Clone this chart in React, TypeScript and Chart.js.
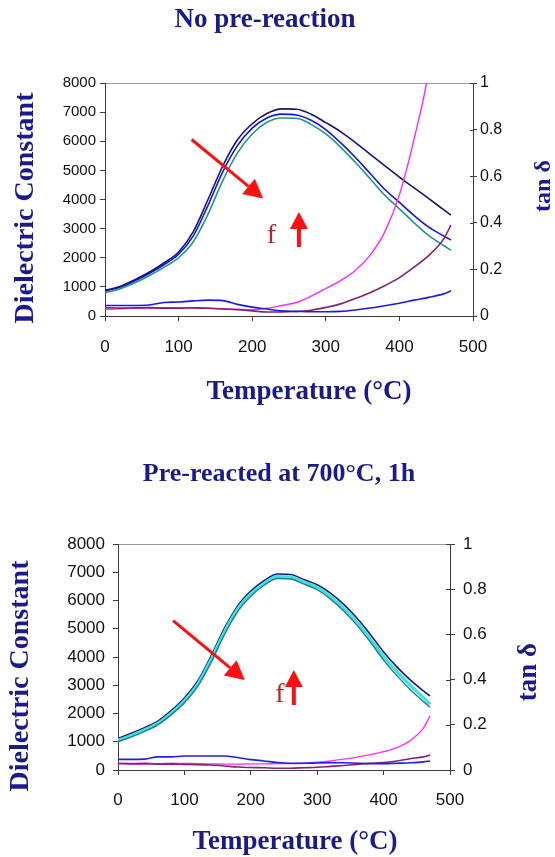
import React, { useEffect, useRef } from "react";
import { Chart, registerables } from "chart.js";

Chart.register(...registerables);

// Measurement temperatures (°C)
const TEMPERATURE = [0, 20, 40, 60, 80, 100, 120, 140, 160, 180, 200, 220, 240, 260, 280, 300, 320, 340, 360, 380, 400, 420, 440, 460, 470];

// No pre-reaction: dielectric constant, three frequencies (lowest first)
const EPS_RAW_F1 = [880, 1010, 1240, 1500, 1820, 2200, 2900, 4000, 5150, 6050, 6600, 6950, 7110, 7100, 6930, 6640, 6330, 5960, 5560, 5160, 4770, 4400, 4030, 3650, 3460];
const EPS_RAW_F2 = [860, 990, 1200, 1460, 1760, 2120, 2750, 3800, 4950, 5850, 6450, 6800, 6930, 6900, 6720, 6400, 5950, 5450, 4900, 4350, 3900, 3450, 3050, 2750, 2610];
const EPS_RAW_F3 = [800, 930, 1130, 1380, 1670, 2000, 2550, 3500, 4650, 5600, 6250, 6650, 6800, 6790, 6580, 6250, 5800, 5280, 4720, 4150, 3680, 3200, 2760, 2420, 2260];

// No pre-reaction: loss tangent
const TAN_RAW_F1 = [0.028, 0.031, 0.033, 0.034, 0.036, 0.034, 0.036, 0.034, 0.031, 0.029, 0.027, 0.033, 0.045, 0.058, 0.085, 0.118, 0.152, 0.195, 0.26, 0.36, 0.52, 0.76, 1.06, 1.6, 2.0];
const TAN_RAW_F2 = [0.036, 0.034, 0.035, 0.036, 0.034, 0.034, 0.035, 0.033, 0.03, 0.027, 0.022, 0.017, 0.017, 0.019, 0.025, 0.037, 0.052, 0.075, 0.1, 0.13, 0.165, 0.21, 0.26, 0.33, 0.39];
const TAN_RAW_F3 = [0.045, 0.045, 0.045, 0.047, 0.058, 0.06, 0.065, 0.068, 0.066, 0.05, 0.038, 0.03, 0.022, 0.02, 0.018, 0.018, 0.02, 0.026, 0.034, 0.044, 0.055, 0.068, 0.08, 0.095, 0.108];

// Pre-reacted at 700 °C for 1 h: dielectric constant
const EPS_PRE_F1 = [1120, 1300, 1500, 1730, 2100, 2550, 3150, 4030, 5000, 5800, 6330, 6700, 6940, 6920, 6740, 6560, 6260, 5860, 5370, 4800, 4180, 3650, 3190, 2800, 2620];
const EPS_PRE_F2 = [1050, 1220, 1420, 1650, 2010, 2450, 3040, 3900, 4880, 5690, 6230, 6610, 6850, 6830, 6650, 6460, 6140, 5730, 5230, 4650, 4020, 3480, 3000, 2560, 2330];
const EPS_PRE_F3 = [1000, 1170, 1370, 1600, 1950, 2380, 2960, 3800, 4780, 5600, 6150, 6540, 6780, 6760, 6580, 6380, 6050, 5630, 5120, 4530, 3890, 3340, 2850, 2420, 2220];

// Pre-reacted at 700 °C for 1 h: loss tangent
const TAN_PRE_F1 = [0.03, 0.029, 0.031, 0.028, 0.03, 0.029, 0.028, 0.027, 0.026, 0.026, 0.027, 0.027, 0.028, 0.028, 0.03, 0.034, 0.04, 0.048, 0.057, 0.068, 0.081, 0.099, 0.13, 0.185, 0.24];
const TAN_PRE_F2 = [0.028, 0.027, 0.027, 0.026, 0.026, 0.025, 0.024, 0.022, 0.018, 0.013, 0.011, 0.01, 0.008, 0.008, 0.01, 0.012, 0.016, 0.02, 0.025, 0.03, 0.033, 0.04, 0.05, 0.058, 0.066];
const TAN_PRE_F3 = [0.047, 0.047, 0.048, 0.058, 0.058, 0.062, 0.062, 0.062, 0.062, 0.055, 0.046, 0.04, 0.033, 0.03, 0.03, 0.031, 0.032, 0.032, 0.03, 0.028, 0.028, 0.03, 0.032, 0.036, 0.04];

// Axis ranges and tick steps
const TEMP_RANGE = [0, 500];
const TEMP_STEP = 100;
const EPS_RANGE = [0, 8000];
const EPS_STEP = 1000;
const TAN_RANGE = [0, 1];
const TAN_STEP = 0.2;

type Pt = [number, number];

// "Increasing frequency" arrows, in (°C, dielectric constant) coordinates
const RAW_DIAG_ARROW: Pt[] = [[117.7, 6060], [214.9, 4036]];
const RAW_UP_ARROW: Pt[] = [[263.5, 2369], [263.5, 3571]];
const RAW_F_LABEL: Pt = [226, 2750];
const PRE_DIAG_ARROW: Pt[] = [[83, 5286], [191, 3186]];
const PRE_UP_ARROW: Pt[] = [[264.8, 2301], [264.8, 3540]];
const PRE_F_LABEL: Pt = [243.7, 2655];

const INK = "#1a1a8c";
const AXIS = "#3c3c3c";
const FRAME = "#9a9a9a";
const ARROW_RED = "#ff1010";
const F_RED = "#b52a2a";

const pts = (values: number[]) => TEMPERATURE.map((t, i) => ({ x: t, y: values[i] }));

type PanelSpec = {
  eps: { data: number[]; color: string; width: number }[];
  tan: { data: number[]; color: string; width: number }[];
  box: { left: number; right: number; top: number; bottom: number; w: number; h: number };
  tickFont: { family: string; yLeft: number; yRight: number; x: number };
  leftTick: { len: number; pad: number };
  rightTick: { out: number; inner: number; pad: number };
  xTick: { len: number; pad: number };
  arrows: { line: Pt[]; head: number; half: number; shaft: number }[];
  fLabel: Pt;
  fSize: number;
};

function buildChart(canvas: HTMLCanvasElement, spec: PanelSpec) {
  const { box } = spec;
  const overlay = {
    id: "panelOverlay",
    afterDatasetsDraw(chart: any) {
      const { ctx, scales, chartArea } = chart;
      const toPx = (p: Pt) => [scales.x.getPixelForValue(p[0]), scales.y.getPixelForValue(p[1])];
      ctx.save();
      for (const a of spec.arrows) {
        const [x0, y0] = toPx(a.line[0]);
        const [x1, y1] = toPx(a.line[1]);
        const ang = Math.atan2(y1 - y0, x1 - x0);
        const bx = x1 - Math.cos(ang) * a.head;
        const by = y1 - Math.sin(ang) * a.head;
        ctx.strokeStyle = ARROW_RED;
        ctx.lineWidth = a.shaft;
        ctx.lineCap = "butt";
        ctx.beginPath();
        ctx.moveTo(x0, y0);
        ctx.lineTo(bx, by);
        ctx.stroke();
        ctx.fillStyle = ARROW_RED;
        ctx.beginPath();
        ctx.moveTo(x1, y1);
        ctx.lineTo(bx + Math.sin(ang) * a.half, by - Math.cos(ang) * a.half);
        ctx.lineTo(bx - Math.sin(ang) * a.half, by + Math.cos(ang) * a.half);
        ctx.closePath();
        ctx.fill();
      }
      const [fx, fy] = toPx(spec.fLabel);
      ctx.fillStyle = F_RED;
      ctx.font = `${spec.fSize}px 'Liberation Serif', 'Times New Roman', serif`;
      ctx.textAlign = "center";
      ctx.textBaseline = "middle";
      ctx.fillText("f", fx, fy);
      // inner half of the right-axis tick marks
      const y1s = scales.y1;
      ctx.strokeStyle = AXIS;
      ctx.lineWidth = 1;
      for (const t of y1s.ticks) {
        const y = Math.round(y1s.getPixelForValue(t.value)) + 0.5;
        ctx.beginPath();
        ctx.moveTo(chartArea.right - spec.rightTick.inner, y);
        ctx.lineTo(chartArea.right, y);
        ctx.stroke();
      }
      ctx.restore();
    },
  };

  const datasets: any[] = [];
  spec.tan.forEach((s) =>
    datasets.push({
      data: pts(s.data),
      yAxisID: "y1",
      borderColor: s.color,
      borderWidth: s.width,
      pointRadius: 0,
      cubicInterpolationMode: "monotone",
      fill: false,
    })
  );
  spec.eps.forEach((s) =>
    datasets.push({
      data: pts(s.data),
      yAxisID: "y",
      borderColor: s.color,
      borderWidth: s.width,
      pointRadius: 0,
      cubicInterpolationMode: "monotone",
      fill: false,
    })
  );

  return new Chart(canvas, {
    type: "line",
    data: { datasets },
    plugins: [overlay],
    options: {
      responsive: false,
      animation: false,
      events: [],
      layout: { padding: { top: box.top, left: 0, right: 0, bottom: 0 } },
      plugins: { legend: { display: false }, tooltip: { enabled: false }, title: { display: false } },
      scales: {
        x: {
          type: "linear",
          position: "bottom",
          min: TEMP_RANGE[0],
          max: TEMP_RANGE[1],
          ticks: {
            stepSize: TEMP_STEP,
            color: "#111",
            padding: spec.xTick.pad,
            maxRotation: 0,
            font: { family: spec.tickFont.family, size: spec.tickFont.x },
            callback: (v: any) => String(v),
          },
          grid: { display: true, drawOnChartArea: false, drawTicks: true, tickLength: spec.xTick.len, color: AXIS },
          border: { display: true, color: AXIS, width: 1 },
          afterFit: (s: any) => {
            s.height = box.h - box.bottom;
          },
        },
        xTop: {
          type: "linear",
          position: "top",
          min: TEMP_RANGE[0],
          max: TEMP_RANGE[1],
          ticks: { display: false },
          grid: { display: false, drawTicks: false },
          border: { display: true, color: FRAME, width: 1 },
          afterFit: (s: any) => {
            s.height = 0;
          },
        },
        y: {
          type: "linear",
          position: "left",
          min: EPS_RANGE[0],
          max: EPS_RANGE[1],
          ticks: {
            stepSize: EPS_STEP,
            color: "#111",
            padding: spec.leftTick.pad,
            font: { family: spec.tickFont.family, size: spec.tickFont.yLeft },
            callback: (v: any) => String(v),
          },
          grid: { display: true, drawOnChartArea: false, drawTicks: true, tickLength: spec.leftTick.len, color: AXIS },
          border: { display: true, color: AXIS, width: 1 },
          afterFit: (s: any) => {
            s.width = box.left;
          },
        },
        y1: {
          type: "linear",
          position: "right",
          min: TAN_RANGE[0],
          max: TAN_RANGE[1],
          ticks: {
            stepSize: TAN_STEP,
            color: "#111",
            padding: spec.rightTick.pad,
            font: { family: spec.tickFont.family, size: spec.tickFont.yRight },
            callback: (v: any) => String(Math.round(Number(v) * 10) / 10),
          },
          grid: { display: true, drawOnChartArea: false, drawTicks: true, tickLength: spec.rightTick.out, color: AXIS },
          border: { display: true, color: AXIS, width: 1 },
          afterFit: (s: any) => {
            s.width = box.w - box.right;
          },
        },
      },
    } as any,
  });
}

const TICK_SANS = "'Liberation Sans', Arial, sans-serif";

const RAW_SPEC: PanelSpec = {
  eps: [
    { data: EPS_RAW_F1, color: "#16166e", width: 1.6 },
    { data: EPS_RAW_F2, color: "#1414e6", width: 1.6 },
    { data: EPS_RAW_F3, color: "#20968c", width: 1.6 },
  ],
  tan: [
    { data: TAN_RAW_F3, color: "#1a1ae8", width: 1.6 },
    { data: TAN_RAW_F2, color: "#86206a", width: 1.6 },
    { data: TAN_RAW_F1, color: "#ff26ff", width: 1.4 },
  ],
  box: { left: 105, right: 473, top: 23, bottom: 256, w: 555, h: 320 },
  tickFont: { family: TICK_SANS, yLeft: 15, yRight: 16, x: 17 },
  leftTick: { len: 5, pad: 4 },
  rightTick: { out: 4, inner: 3, pad: 3 },
  xTick: { len: 5, pad: 16 },
  arrows: [
    { line: RAW_DIAG_ARROW, head: 19, half: 10, shaft: 3 },
    { line: RAW_UP_ARROW, head: 17, half: 9, shaft: 4 },
  ],
  fLabel: RAW_F_LABEL,
  fSize: 28,
};

const PRE_SPEC: PanelSpec = {
  eps: [
    { data: EPS_PRE_F3, color: "#20807e", width: 1.4 },
    { data: EPS_PRE_F2, color: "#3fe0e0", width: 3.2 },
    { data: EPS_PRE_F1, color: "#1a1a7a", width: 1.6 },
  ],
  tan: [
    { data: TAN_PRE_F3, color: "#1e1ef0", width: 1.6 },
    { data: TAN_PRE_F2, color: "#88206e", width: 1.6 },
    { data: TAN_PRE_F1, color: "#ff30ff", width: 1.4 },
  ],
  box: { left: 118, right: 450, top: 44, bottom: 270, w: 555, h: 330 },
  tickFont: { family: TICK_SANS, yLeft: 17, yRight: 17, x: 17 },
  leftTick: { len: 5, pad: 8 },
  rightTick: { out: 5, inner: 4, pad: 8 },
  xTick: { len: 5, pad: 15 },
  arrows: [
    { line: PRE_DIAG_ARROW, head: 19, half: 10, shaft: 3 },
    { line: PRE_UP_ARROW, head: 17, half: 9, shaft: 4 },
  ],
  fLabel: PRE_F_LABEL,
  fSize: 28,
};

const SERIF = "'Liberation Serif', 'Times New Roman', serif";

export default function App() {
  const rawRef = useRef<HTMLCanvasElement>(null);
  const preRef = useRef<HTMLCanvasElement>(null);

  useEffect(() => {
    const charts: Chart[] = [];
    if (rawRef.current) charts.push(buildChart(rawRef.current, RAW_SPEC));
    if (preRef.current) charts.push(buildChart(preRef.current, PRE_SPEC));
    return () => charts.forEach((c) => c.destroy());
  }, []);

  const titleProps = { fontFamily: SERIF, fontWeight: "bold", fill: INK, textAnchor: "middle" as const };

  return (
    <div style={{ position: "absolute", left: 0, top: 0, width: 555, height: 857, background: "#fff", overflow: "hidden" }}>
      <canvas
        ref={rawRef}
        width={RAW_SPEC.box.w}
        height={RAW_SPEC.box.h}
        style={{ position: "absolute", left: 0, top: 60, width: RAW_SPEC.box.w, height: RAW_SPEC.box.h }}
      />
      <canvas
        ref={preRef}
        width={PRE_SPEC.box.w}
        height={PRE_SPEC.box.h}
        style={{ position: "absolute", left: 0, top: 500, width: PRE_SPEC.box.w, height: PRE_SPEC.box.h }}
      />
      <svg width={555} height={857} style={{ position: "absolute", left: 0, top: 0, pointerEvents: "none" }}>
        <text x={265} y={27} fontSize={27} {...titleProps}>No pre-reaction</text>
        <text x={309} y={399} fontSize={27} {...titleProps}>Temperature (°C)</text>
        <text transform="translate(33 208) rotate(-90)" x={0} y={0} fontSize={28} {...titleProps}>Dielectric Constant</text>
        <text transform="translate(550 186) rotate(-90)" x={0} y={0} fontSize={24} {...titleProps}>tan δ</text>

        <text x={279} y={481} fontSize={26} {...titleProps}>Pre-reacted at 700°C, 1h</text>
        <text x={295} y={849} fontSize={27} {...titleProps}>Temperature (°C)</text>
        <text transform="translate(28 676) rotate(-90)" x={0} y={0} fontSize={28} {...titleProps}>Dielectric Constant</text>
        <text transform="translate(536 672) rotate(-90)" x={0} y={0} fontSize={27} {...titleProps}>tan δ</text>
      </svg>
    </div>
  );
}
